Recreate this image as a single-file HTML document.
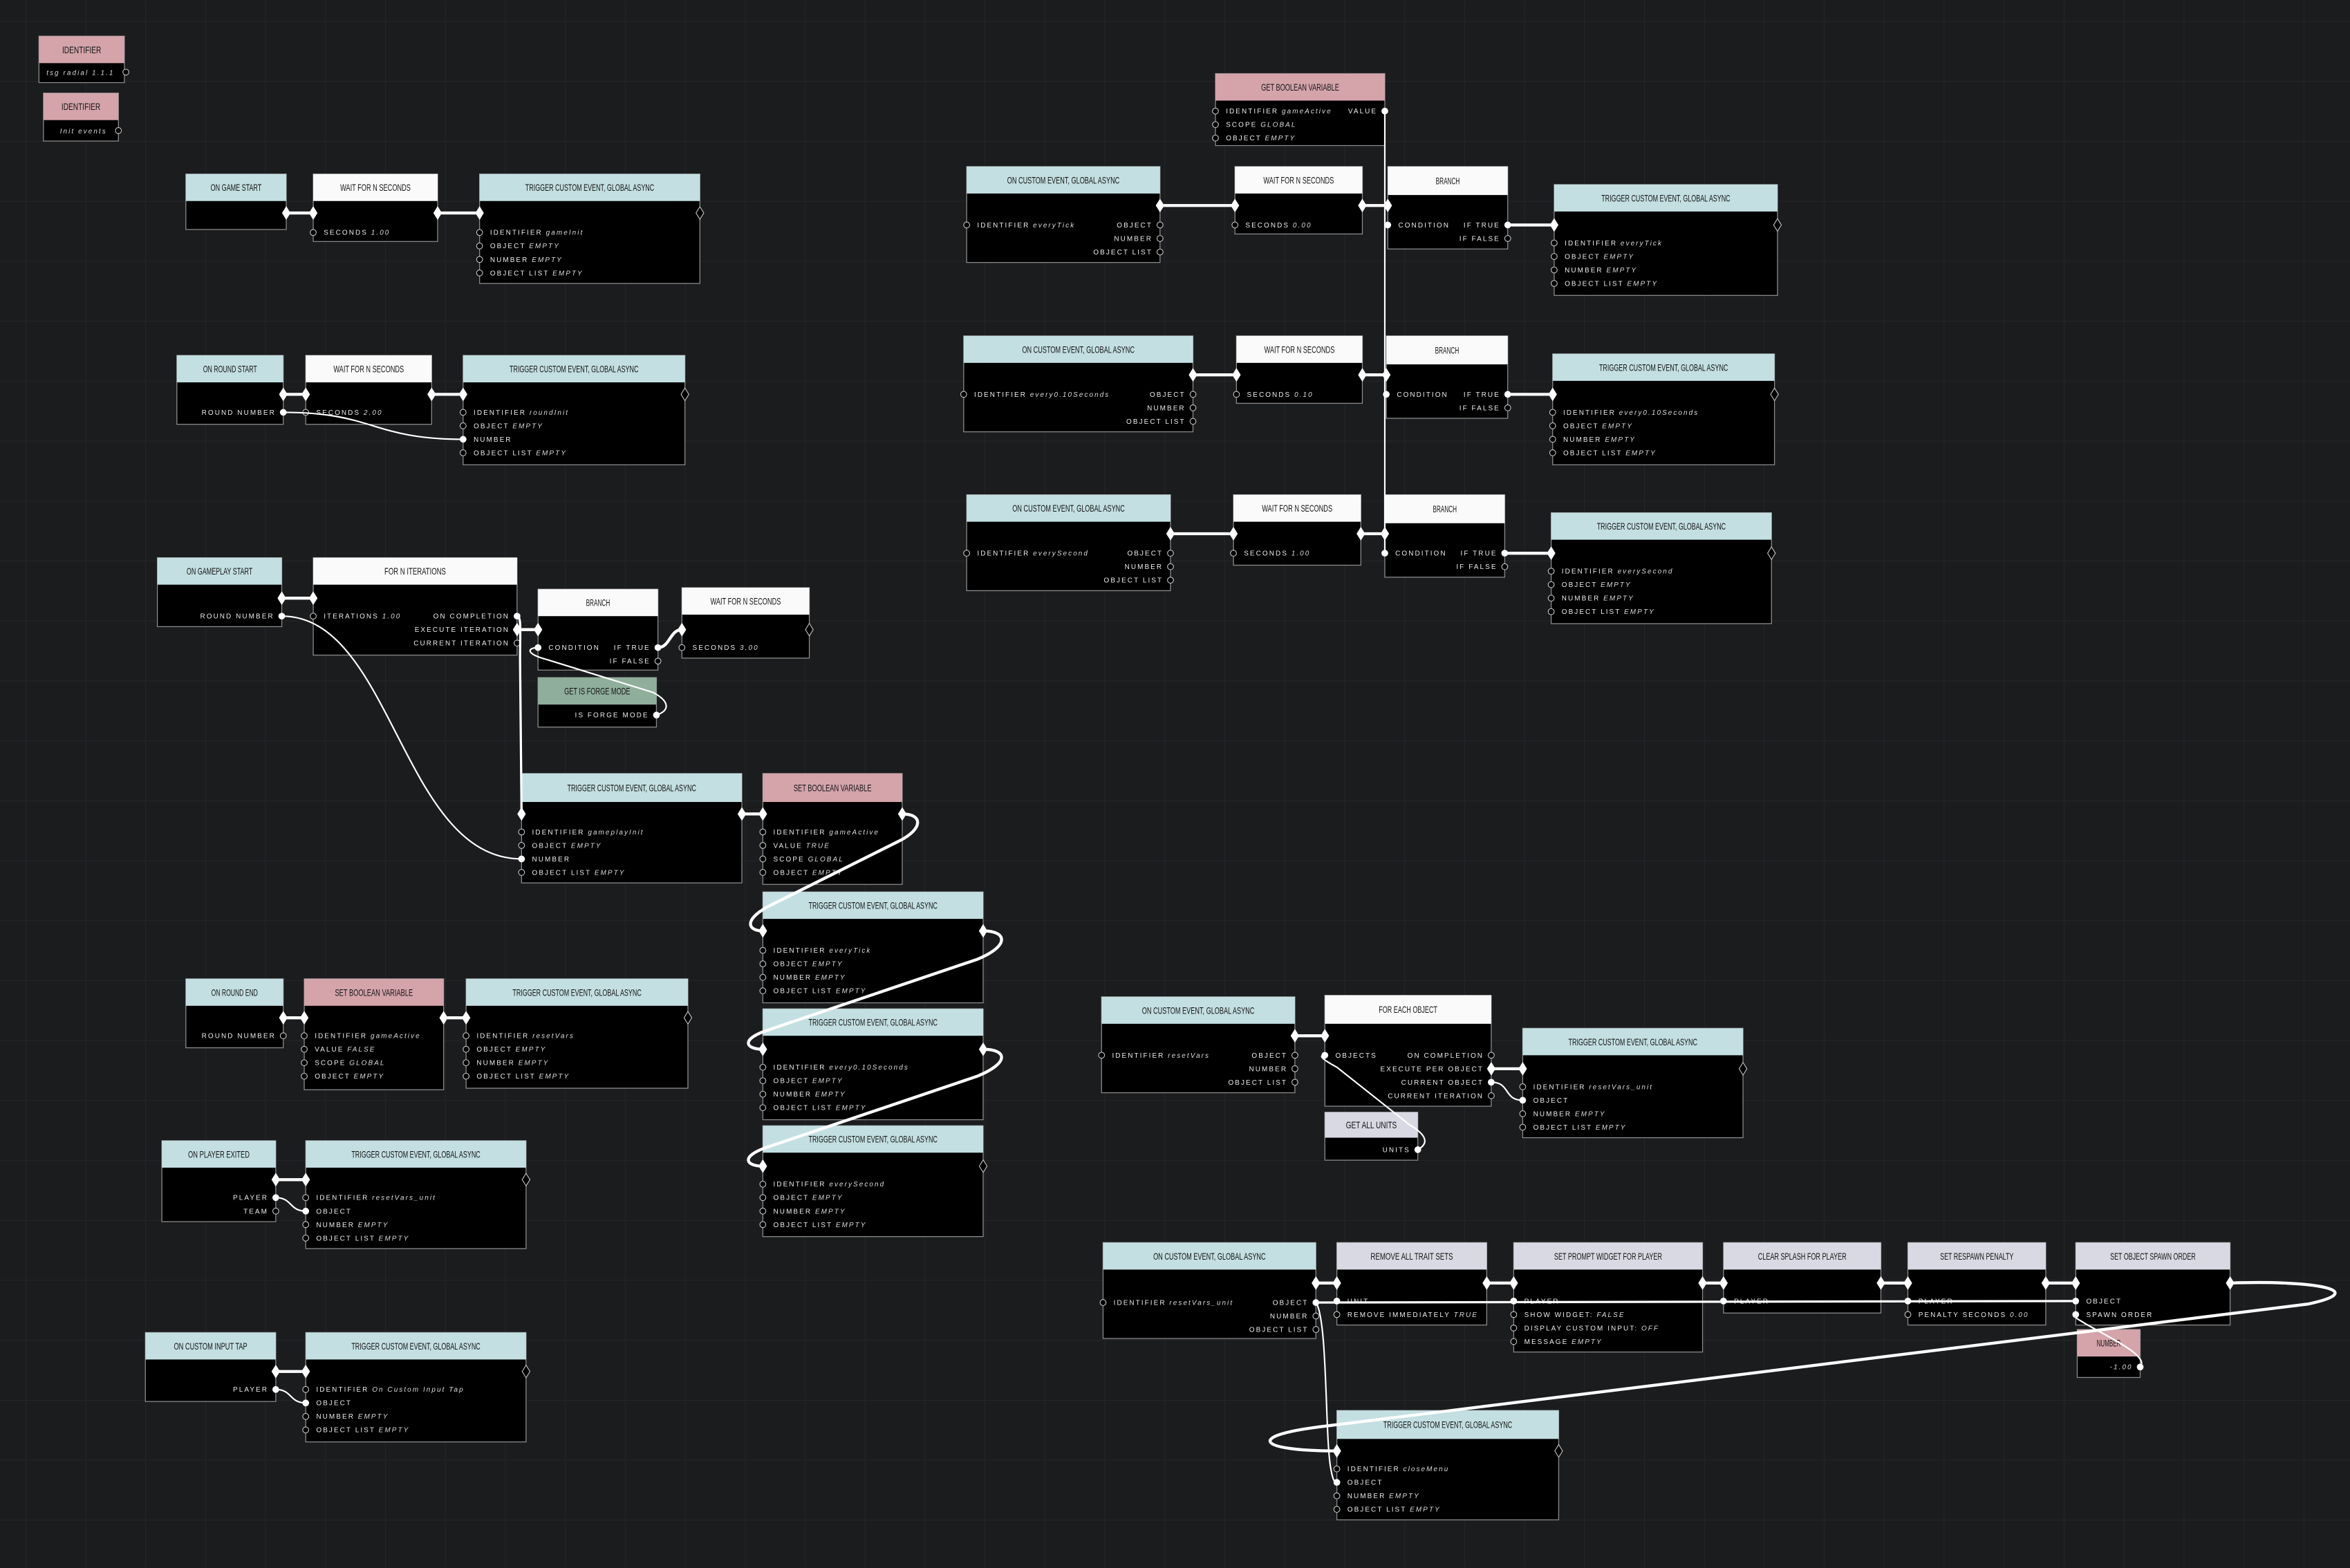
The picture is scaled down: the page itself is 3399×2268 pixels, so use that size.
<!DOCTYPE html>
<html><head><meta charset="utf-8">
<style>
html,body{margin:0;padding:0;background:#1b1c1e;overflow:hidden}
svg{display:block}
.h{font-family:"Liberation Sans",sans-serif;font-size:6.2px;fill:#151515;text-anchor:middle}
.r{font-family:"Liberation Sans",sans-serif;font-size:4.6px;fill:#ececec;letter-spacing:0.95px}
.re{text-anchor:end}
.v{font-style:italic;fill:#dcdcdc}
.n{fill:#000;stroke:#8a8a8a;stroke-width:.6}
.p{fill:#000;stroke:#c8c8c8;stroke-width:.5}
.pf{fill:#fff;stroke:#fff;stroke-width:.5}
.w{fill:none;stroke:#fff;stroke-width:1}
.we{fill:none;stroke:#fff;stroke-width:2}
</style></head><body>
<svg width="3399" height="2268" viewBox="0 0 1568 1046" xmlns="http://www.w3.org/2000/svg">
<defs>
<pattern id="g" x="17" y="14" width="40" height="40" patternUnits="userSpaceOnUse">
<path d="M0 0H40M0 0V40" stroke="#26272a" stroke-width="0.8" fill="none"/>
</pattern>
<polygon id="df" points="-2.6,0 0,-4.2 2.6,0 0,4.2" fill="#fff" stroke="#fff" stroke-width=".4"/>
<polygon id="dh" points="-2.6,0 0,-4.2 2.6,0 0,4.2" fill="#000" stroke="#c8c8c8" stroke-width=".5"/>
</defs>
<rect width="1568" height="1046" fill="#1b1c1e"/>
<rect width="1568" height="1046" fill="url(#g)"/>

<!-- IDENTIFIER 1 -->
<rect class="n" x="26" y="24" width="57" height="31"/><rect x="26" y="24" width="57" height="18" fill="#d4a4aa"/>
<text class="h" x="54.5" y="35.3" textLength="26" lengthAdjust="spacingAndGlyphs">IDENTIFIER</text>
<text class="r v" x="31" y="50">tsg radial 1.1.1</text>
<circle class="p" cx="84" cy="48" r="2"/>
<!-- IDENTIFIER 2 -->
<rect class="n" x="29" y="62" width="50" height="32"/><rect x="29" y="62" width="50" height="18" fill="#d4a4aa"/>
<text class="h" x="54" y="73.3" textLength="26" lengthAdjust="spacingAndGlyphs">IDENTIFIER</text>
<text class="r v" x="40" y="89">Init events</text>
<circle class="p" cx="79" cy="87" r="2"/>

<!-- ON GAME START -->
<rect class="n" x="124" y="116" width="67" height="37"/><rect x="124" y="116" width="67" height="18" fill="#c3dfe2"/>
<text class="h" x="157.5" y="127.3" textLength="34" lengthAdjust="spacingAndGlyphs">ON GAME START</text>
<!-- WAIT -->
<rect class="n" x="209" y="116" width="83" height="45"/><rect x="209" y="116" width="83" height="18" fill="#fafafa"/>
<text class="h" x="250.5" y="127.3" textLength="47" lengthAdjust="spacingAndGlyphs">WAIT FOR N SECONDS</text>
<circle class="p" cx="209" cy="155" r="2"/><text class="r" x="216" y="156.6">SECONDS <tspan class="v">1.00</tspan></text>
<!-- TRIGGER gameInit -->
<rect class="n" x="320" y="116" width="147" height="73"/><rect x="320" y="116" width="147" height="18" fill="#c3dfe2"/>
<text class="h" x="393.5" y="127.3" textLength="86" lengthAdjust="spacingAndGlyphs">TRIGGER CUSTOM EVENT, GLOBAL ASYNC</text>
<circle class="p" cx="320" cy="155" r="2"/><text class="r" x="327" y="156.6">IDENTIFIER <tspan class="v">gameInit</tspan></text>
<circle class="p" cx="320" cy="164" r="2"/><text class="r" x="327" y="165.6">OBJECT <tspan class="v">EMPTY</tspan></text>
<circle class="p" cx="320" cy="173" r="2"/><text class="r" x="327" y="174.6">NUMBER <tspan class="v">EMPTY</tspan></text>
<circle class="p" cx="320" cy="182" r="2"/><text class="r" x="327" y="183.6">OBJECT LIST <tspan class="v">EMPTY</tspan></text>
<use href="#dh" x="467" y="142"/>

<!-- ON ROUND START -->
<rect class="n" x="118" y="237" width="71" height="46"/><rect x="118" y="237" width="71" height="18" fill="#c3dfe2"/>
<text class="h" x="153.5" y="248.3" textLength="36" lengthAdjust="spacingAndGlyphs">ON ROUND START</text>
<text class="r re" x="184" y="276.6">ROUND NUMBER</text><circle class="pf" cx="189" cy="275" r="2"/>
<rect class="n" x="204" y="237" width="84" height="46"/><rect x="204" y="237" width="84" height="18" fill="#fafafa"/>
<text class="h" x="246" y="248.3" textLength="47" lengthAdjust="spacingAndGlyphs">WAIT FOR N SECONDS</text>
<circle class="p" cx="204" cy="275" r="2"/><text class="r" x="211" y="276.6">SECONDS <tspan class="v">2.00</tspan></text>
<rect class="n" x="309" y="237" width="148" height="73"/><rect x="309" y="237" width="148" height="18" fill="#c3dfe2"/>
<text class="h" x="383" y="248.3" textLength="86" lengthAdjust="spacingAndGlyphs">TRIGGER CUSTOM EVENT, GLOBAL ASYNC</text>
<circle class="p" cx="309" cy="275" r="2"/><text class="r" x="316" y="276.6">IDENTIFIER <tspan class="v">roundInit</tspan></text>
<circle class="p" cx="309" cy="284" r="2"/><text class="r" x="316" y="285.6">OBJECT <tspan class="v">EMPTY</tspan></text>
<circle class="pf" cx="309" cy="293" r="2"/><text class="r" x="316" y="294.6">NUMBER</text>
<circle class="p" cx="309" cy="302" r="2"/><text class="r" x="316" y="303.6">OBJECT LIST <tspan class="v">EMPTY</tspan></text>
<use href="#dh" x="457" y="263"/>

<!-- ON GAMEPLAY START -->
<rect class="n" x="105" y="372" width="83" height="46"/><rect x="105" y="372" width="83" height="18" fill="#c3dfe2"/>
<text class="h" x="146.5" y="383.3" textLength="44" lengthAdjust="spacingAndGlyphs">ON GAMEPLAY START</text>
<text class="r re" x="183" y="412.6">ROUND NUMBER</text><circle class="pf" cx="188" cy="411" r="2"/>
<!-- FOR N ITERATIONS -->
<rect class="n" x="209" y="372" width="136" height="65"/><rect x="209" y="372" width="136" height="18" fill="#fafafa"/>
<text class="h" x="277" y="383.3" textLength="41" lengthAdjust="spacingAndGlyphs">FOR N ITERATIONS</text>
<circle class="p" cx="209" cy="411" r="2"/><text class="r" x="216" y="412.6">ITERATIONS <tspan class="v">1.00</tspan></text>
<text class="r re" x="340" y="412.6">ON COMPLETION</text><circle class="pf" cx="345" cy="411" r="2"/>
<text class="r re" x="340" y="421.6">EXECUTE ITERATION</text>
<text class="r re" x="340" y="430.6">CURRENT ITERATION</text><circle class="p" cx="345" cy="429" r="2"/>
<!-- BRANCH -->
<rect class="n" x="359" y="393" width="80" height="54"/><rect x="359" y="393" width="80" height="18" fill="#fafafa"/>
<text class="h" x="399" y="404.3" textLength="16" lengthAdjust="spacingAndGlyphs">BRANCH</text>
<circle class="pf" cx="359" cy="432" r="2"/><text class="r" x="366" y="433.6">CONDITION</text>
<text class="r re" x="434" y="433.6">IF TRUE</text><circle class="pf" cx="439" cy="432" r="2"/>
<text class="r re" x="434" y="442.6">IF FALSE</text><circle class="p" cx="439" cy="441" r="2"/>
<!-- WAIT 3 -->
<rect class="n" x="455" y="392" width="85" height="47"/><rect x="455" y="392" width="85" height="18" fill="#fafafa"/>
<text class="h" x="497.5" y="403.3" textLength="47" lengthAdjust="spacingAndGlyphs">WAIT FOR N SECONDS</text>
<circle class="p" cx="455" cy="432" r="2"/><text class="r" x="462" y="433.6">SECONDS <tspan class="v">3.00</tspan></text>
<use href="#dh" x="540" y="420"/>
<!-- GET IS FORGE MODE -->
<rect class="n" x="359" y="452" width="79" height="33"/><rect x="359" y="452" width="79" height="18" fill="#8fae9c"/>
<text class="h" x="398.5" y="463.3" textLength="44" lengthAdjust="spacingAndGlyphs">GET IS FORGE MODE</text>
<text class="r re" x="433" y="478.6">IS FORGE MODE</text><circle class="pf" cx="438" cy="477" r="2"/>
<!-- TRIGGER gameplayInit -->
<rect class="n" x="348" y="516" width="147" height="73"/><rect x="348" y="516" width="147" height="19" fill="#c3dfe2"/>
<text class="h" x="421.5" y="527.8" textLength="86" lengthAdjust="spacingAndGlyphs">TRIGGER CUSTOM EVENT, GLOBAL ASYNC</text>
<circle class="p" cx="348" cy="555" r="2"/><text class="r" x="355" y="556.6">IDENTIFIER <tspan class="v">gameplayInit</tspan></text>
<circle class="p" cx="348" cy="564" r="2"/><text class="r" x="355" y="565.6">OBJECT <tspan class="v">EMPTY</tspan></text>
<circle class="pf" cx="348" cy="573" r="2"/><text class="r" x="355" y="574.6">NUMBER</text>
<circle class="p" cx="348" cy="582" r="2"/><text class="r" x="355" y="583.6">OBJECT LIST <tspan class="v">EMPTY</tspan></text>
<!-- SET BOOLEAN -->
<rect class="n" x="509" y="516" width="93" height="74"/><rect x="509" y="516" width="93" height="19" fill="#d4a4aa"/>
<text class="h" x="555.5" y="527.8" textLength="52" lengthAdjust="spacingAndGlyphs">SET BOOLEAN VARIABLE</text>
<circle class="p" cx="509" cy="555" r="2"/><text class="r" x="516" y="556.6">IDENTIFIER <tspan class="v">gameActive</tspan></text>
<circle class="p" cx="509" cy="564" r="2"/><text class="r" x="516" y="565.6">VALUE <tspan class="v">TRUE</tspan></text>
<circle class="p" cx="509" cy="573" r="2"/><text class="r" x="516" y="574.6">SCOPE <tspan class="v">GLOBAL</tspan></text>
<circle class="p" cx="509" cy="582" r="2"/><text class="r" x="516" y="583.6">OBJECT <tspan class="v">EMPTY</tspan></text>
<!-- TRIGGERS stacked -->
<rect class="n" x="509" y="595" width="147" height="74"/><rect x="509" y="595" width="147" height="18" fill="#c3dfe2"/>
<text class="h" x="582.5" y="606.3" textLength="86" lengthAdjust="spacingAndGlyphs">TRIGGER CUSTOM EVENT, GLOBAL ASYNC</text>
<circle class="p" cx="509" cy="634" r="2"/><text class="r" x="516" y="635.6">IDENTIFIER <tspan class="v">everyTick</tspan></text>
<circle class="p" cx="509" cy="643" r="2"/><text class="r" x="516" y="644.6">OBJECT <tspan class="v">EMPTY</tspan></text>
<circle class="p" cx="509" cy="652" r="2"/><text class="r" x="516" y="653.6">NUMBER <tspan class="v">EMPTY</tspan></text>
<circle class="p" cx="509" cy="661" r="2"/><text class="r" x="516" y="662.6">OBJECT LIST <tspan class="v">EMPTY</tspan></text>
<rect class="n" x="509" y="673" width="147" height="74"/><rect x="509" y="673" width="147" height="18" fill="#c3dfe2"/>
<text class="h" x="582.5" y="684.3" textLength="86" lengthAdjust="spacingAndGlyphs">TRIGGER CUSTOM EVENT, GLOBAL ASYNC</text>
<circle class="p" cx="509" cy="712" r="2"/><text class="r" x="516" y="713.6">IDENTIFIER <tspan class="v">every0.10Seconds</tspan></text>
<circle class="p" cx="509" cy="721" r="2"/><text class="r" x="516" y="722.6">OBJECT <tspan class="v">EMPTY</tspan></text>
<circle class="p" cx="509" cy="730" r="2"/><text class="r" x="516" y="731.6">NUMBER <tspan class="v">EMPTY</tspan></text>
<circle class="p" cx="509" cy="739" r="2"/><text class="r" x="516" y="740.6">OBJECT LIST <tspan class="v">EMPTY</tspan></text>
<rect class="n" x="509" y="751" width="147" height="74"/><rect x="509" y="751" width="147" height="18" fill="#c3dfe2"/>
<text class="h" x="582.5" y="762.3" textLength="86" lengthAdjust="spacingAndGlyphs">TRIGGER CUSTOM EVENT, GLOBAL ASYNC</text>
<circle class="p" cx="509" cy="790" r="2"/><text class="r" x="516" y="791.6">IDENTIFIER <tspan class="v">everySecond</tspan></text>
<circle class="p" cx="509" cy="799" r="2"/><text class="r" x="516" y="800.6">OBJECT <tspan class="v">EMPTY</tspan></text>
<circle class="p" cx="509" cy="808" r="2"/><text class="r" x="516" y="809.6">NUMBER <tspan class="v">EMPTY</tspan></text>
<circle class="p" cx="509" cy="817" r="2"/><text class="r" x="516" y="818.6">OBJECT LIST <tspan class="v">EMPTY</tspan></text>
<use href="#dh" x="656" y="778"/>

<!-- ON ROUND END -->
<rect class="n" x="124" y="653" width="65" height="46"/><rect x="124" y="653" width="65" height="18" fill="#c3dfe2"/>
<text class="h" x="156.5" y="664.3" textLength="31" lengthAdjust="spacingAndGlyphs">ON ROUND END</text>
<text class="r re" x="184" y="692.6">ROUND NUMBER</text><circle class="p" cx="189" cy="691" r="2"/>
<rect class="n" x="203" y="653" width="93" height="74"/><rect x="203" y="653" width="93" height="18" fill="#d4a4aa"/>
<text class="h" x="249.5" y="664.3" textLength="52" lengthAdjust="spacingAndGlyphs">SET BOOLEAN VARIABLE</text>
<circle class="p" cx="203" cy="691" r="2"/><text class="r" x="210" y="692.6">IDENTIFIER <tspan class="v">gameActive</tspan></text>
<circle class="p" cx="203" cy="700" r="2"/><text class="r" x="210" y="701.6">VALUE <tspan class="v">FALSE</tspan></text>
<circle class="p" cx="203" cy="709" r="2"/><text class="r" x="210" y="710.6">SCOPE <tspan class="v">GLOBAL</tspan></text>
<circle class="p" cx="203" cy="718" r="2"/><text class="r" x="210" y="719.6">OBJECT <tspan class="v">EMPTY</tspan></text>
<rect class="n" x="311" y="653" width="148" height="73"/><rect x="311" y="653" width="148" height="18" fill="#c3dfe2"/>
<text class="h" x="385" y="664.3" textLength="86" lengthAdjust="spacingAndGlyphs">TRIGGER CUSTOM EVENT, GLOBAL ASYNC</text>
<circle class="p" cx="311" cy="691" r="2"/><text class="r" x="318" y="692.6">IDENTIFIER <tspan class="v">resetVars</tspan></text>
<circle class="p" cx="311" cy="700" r="2"/><text class="r" x="318" y="701.6">OBJECT <tspan class="v">EMPTY</tspan></text>
<circle class="p" cx="311" cy="709" r="2"/><text class="r" x="318" y="710.6">NUMBER <tspan class="v">EMPTY</tspan></text>
<circle class="p" cx="311" cy="718" r="2"/><text class="r" x="318" y="719.6">OBJECT LIST <tspan class="v">EMPTY</tspan></text>
<use href="#dh" x="459" y="679"/>

<!-- ON PLAYER EXITED -->
<rect class="n" x="108" y="761" width="76" height="54"/><rect x="108" y="761" width="76" height="18" fill="#c3dfe2"/>
<text class="h" x="146" y="772.3" textLength="41" lengthAdjust="spacingAndGlyphs">ON PLAYER EXITED</text>
<text class="r re" x="179" y="800.6">PLAYER</text><circle class="pf" cx="184" cy="799" r="2"/>
<text class="r re" x="179" y="809.6">TEAM</text><circle class="p" cx="184" cy="808" r="2"/>
<rect class="n" x="204" y="761" width="147" height="72"/><rect x="204" y="761" width="147" height="18" fill="#c3dfe2"/>
<text class="h" x="277.5" y="772.3" textLength="86" lengthAdjust="spacingAndGlyphs">TRIGGER CUSTOM EVENT, GLOBAL ASYNC</text>
<circle class="p" cx="204" cy="799" r="2"/><text class="r" x="211" y="800.6">IDENTIFIER <tspan class="v">resetVars_unit</tspan></text>
<circle class="pf" cx="204" cy="808" r="2"/><text class="r" x="211" y="809.6">OBJECT</text>
<circle class="p" cx="204" cy="817" r="2"/><text class="r" x="211" y="818.6">NUMBER <tspan class="v">EMPTY</tspan></text>
<circle class="p" cx="204" cy="826" r="2"/><text class="r" x="211" y="827.6">OBJECT LIST <tspan class="v">EMPTY</tspan></text>
<use href="#dh" x="351" y="787"/>

<!-- ON CUSTOM INPUT TAP -->
<rect class="n" x="97" y="889" width="87" height="46"/><rect x="97" y="889" width="87" height="18" fill="#c3dfe2"/>
<text class="h" x="140.5" y="900.3" textLength="49" lengthAdjust="spacingAndGlyphs">ON CUSTOM INPUT TAP</text>
<text class="r re" x="179" y="928.6">PLAYER</text><circle class="pf" cx="184" cy="927" r="2"/>
<rect class="n" x="204" y="889" width="147" height="73"/><rect x="204" y="889" width="147" height="18" fill="#c3dfe2"/>
<text class="h" x="277.5" y="900.3" textLength="86" lengthAdjust="spacingAndGlyphs">TRIGGER CUSTOM EVENT, GLOBAL ASYNC</text>
<circle class="p" cx="204" cy="927" r="2"/><text class="r" x="211" y="928.6">IDENTIFIER <tspan class="v">On Custom Input Tap</tspan></text>
<circle class="pf" cx="204" cy="936" r="2"/><text class="r" x="211" y="937.6">OBJECT</text>
<circle class="p" cx="204" cy="945" r="2"/><text class="r" x="211" y="946.6">NUMBER <tspan class="v">EMPTY</tspan></text>
<circle class="p" cx="204" cy="954" r="2"/><text class="r" x="211" y="955.6">OBJECT LIST <tspan class="v">EMPTY</tspan></text>
<use href="#dh" x="351" y="915"/>

<!-- GET BOOLEAN VARIABLE -->
<rect class="n" x="811" y="49" width="113" height="48"/><rect x="811" y="49" width="113" height="18" fill="#d4a4aa"/>
<text class="h" x="867.5" y="60.3" textLength="52" lengthAdjust="spacingAndGlyphs">GET BOOLEAN VARIABLE</text>
<circle class="p" cx="811" cy="74" r="2"/><text class="r" x="818" y="75.6">IDENTIFIER <tspan class="v">gameActive</tspan></text>
<circle class="p" cx="811" cy="83" r="2"/><text class="r" x="818" y="84.6">SCOPE <tspan class="v">GLOBAL</tspan></text>
<circle class="p" cx="811" cy="92" r="2"/><text class="r" x="818" y="93.6">OBJECT <tspan class="v">EMPTY</tspan></text>
<text class="r re" x="919" y="75.6">VALUE</text><circle class="pf" cx="924" cy="74" r="2"/>

<!-- Row A -->
<rect class="n" x="645" y="111" width="129" height="64"/><rect x="645" y="111" width="129" height="18" fill="#c3dfe2"/>
<text class="h" x="709.5" y="122.3" textLength="75" lengthAdjust="spacingAndGlyphs">ON CUSTOM EVENT, GLOBAL ASYNC</text>
<circle class="p" cx="645" cy="150" r="2"/><text class="r" x="652" y="151.6">IDENTIFIER <tspan class="v">everyTick</tspan></text>
<text class="r re" x="769" y="151.6">OBJECT</text><circle class="p" cx="774" cy="150" r="2"/>
<text class="r re" x="769" y="160.6">NUMBER</text><circle class="p" cx="774" cy="159" r="2"/>
<text class="r re" x="769" y="169.6">OBJECT LIST</text><circle class="p" cx="774" cy="168" r="2"/>
<rect class="n" x="824" y="111" width="85" height="45"/><rect x="824" y="111" width="85" height="18" fill="#fafafa"/>
<text class="h" x="866.5" y="122.3" textLength="47" lengthAdjust="spacingAndGlyphs">WAIT FOR N SECONDS</text>
<circle class="p" cx="824" cy="150" r="2"/><text class="r" x="831" y="151.6">SECONDS <tspan class="v">0.00</tspan></text>
<rect class="n" x="926" y="111" width="80" height="55"/><rect x="926" y="111" width="80" height="19" fill="#fafafa"/>
<text class="h" x="966" y="122.8" textLength="16" lengthAdjust="spacingAndGlyphs">BRANCH</text>
<text class="r" x="933" y="151.6">CONDITION</text>
<text class="r re" x="1001" y="151.6">IF TRUE</text><circle class="pf" cx="1006" cy="150" r="2"/>
<text class="r re" x="1001" y="160.6">IF FALSE</text><circle class="p" cx="1006" cy="159" r="2"/>
<rect class="n" x="1037" y="123" width="149" height="74"/><rect x="1037" y="123" width="149" height="18" fill="#c3dfe2"/>
<text class="h" x="1111.5" y="134.3" textLength="86" lengthAdjust="spacingAndGlyphs">TRIGGER CUSTOM EVENT, GLOBAL ASYNC</text>
<circle class="p" cx="1037" cy="162" r="2"/><text class="r" x="1044" y="163.6">IDENTIFIER <tspan class="v">everyTick</tspan></text>
<circle class="p" cx="1037" cy="171" r="2"/><text class="r" x="1044" y="172.6">OBJECT <tspan class="v">EMPTY</tspan></text>
<circle class="p" cx="1037" cy="180" r="2"/><text class="r" x="1044" y="181.6">NUMBER <tspan class="v">EMPTY</tspan></text>
<circle class="p" cx="1037" cy="189" r="2"/><text class="r" x="1044" y="190.6">OBJECT LIST <tspan class="v">EMPTY</tspan></text>
<use href="#dh" x="1186" y="150"/>

<!-- Row B -->
<rect class="n" x="643" y="224" width="153" height="64"/><rect x="643" y="224" width="153" height="18" fill="#c3dfe2"/>
<text class="h" x="719.5" y="235.3" textLength="75" lengthAdjust="spacingAndGlyphs">ON CUSTOM EVENT, GLOBAL ASYNC</text>
<circle class="p" cx="643" cy="263" r="2"/><text class="r" x="650" y="264.6">IDENTIFIER <tspan class="v">every0.10Seconds</tspan></text>
<text class="r re" x="791" y="264.6">OBJECT</text><circle class="p" cx="796" cy="263" r="2"/>
<text class="r re" x="791" y="273.6">NUMBER</text><circle class="p" cx="796" cy="272" r="2"/>
<text class="r re" x="791" y="282.6">OBJECT LIST</text><circle class="p" cx="796" cy="281" r="2"/>
<rect class="n" x="825" y="224" width="84" height="45"/><rect x="825" y="224" width="84" height="18" fill="#fafafa"/>
<text class="h" x="867" y="235.3" textLength="47" lengthAdjust="spacingAndGlyphs">WAIT FOR N SECONDS</text>
<circle class="p" cx="825" cy="263" r="2"/><text class="r" x="832" y="264.6">SECONDS <tspan class="v">0.10</tspan></text>
<rect class="n" x="925" y="224" width="81" height="55"/><rect x="925" y="224" width="81" height="19" fill="#fafafa"/>
<text class="h" x="965.5" y="235.8" textLength="16" lengthAdjust="spacingAndGlyphs">BRANCH</text>
<text class="r" x="932" y="264.6">CONDITION</text>
<text class="r re" x="1001" y="264.6">IF TRUE</text><circle class="pf" cx="1006" cy="263" r="2"/>
<text class="r re" x="1001" y="273.6">IF FALSE</text><circle class="p" cx="1006" cy="272" r="2"/>
<rect class="n" x="1036" y="236" width="148" height="74"/><rect x="1036" y="236" width="148" height="18" fill="#c3dfe2"/>
<text class="h" x="1110" y="247.3" textLength="86" lengthAdjust="spacingAndGlyphs">TRIGGER CUSTOM EVENT, GLOBAL ASYNC</text>
<circle class="p" cx="1036" cy="275" r="2"/><text class="r" x="1043" y="276.6">IDENTIFIER <tspan class="v">every0.10Seconds</tspan></text>
<circle class="p" cx="1036" cy="284" r="2"/><text class="r" x="1043" y="285.6">OBJECT <tspan class="v">EMPTY</tspan></text>
<circle class="p" cx="1036" cy="293" r="2"/><text class="r" x="1043" y="294.6">NUMBER <tspan class="v">EMPTY</tspan></text>
<circle class="p" cx="1036" cy="302" r="2"/><text class="r" x="1043" y="303.6">OBJECT LIST <tspan class="v">EMPTY</tspan></text>
<use href="#dh" x="1184" y="263"/>

<!-- Row C -->
<rect class="n" x="645" y="330" width="136" height="64"/><rect x="645" y="330" width="136" height="18" fill="#c3dfe2"/>
<text class="h" x="713" y="341.3" textLength="75" lengthAdjust="spacingAndGlyphs">ON CUSTOM EVENT, GLOBAL ASYNC</text>
<circle class="p" cx="645" cy="369" r="2"/><text class="r" x="652" y="370.6">IDENTIFIER <tspan class="v">everySecond</tspan></text>
<text class="r re" x="776" y="370.6">OBJECT</text><circle class="p" cx="781" cy="369" r="2"/>
<text class="r re" x="776" y="379.6">NUMBER</text><circle class="p" cx="781" cy="378" r="2"/>
<text class="r re" x="776" y="388.6">OBJECT LIST</text><circle class="p" cx="781" cy="387" r="2"/>
<rect class="n" x="823" y="330" width="85" height="47"/><rect x="823" y="330" width="85" height="18" fill="#fafafa"/>
<text class="h" x="865.5" y="341.3" textLength="47" lengthAdjust="spacingAndGlyphs">WAIT FOR N SECONDS</text>
<circle class="p" cx="823" cy="369" r="2"/><text class="r" x="830" y="370.6">SECONDS <tspan class="v">1.00</tspan></text>
<rect class="n" x="924" y="330" width="80" height="55"/><rect x="924" y="330" width="80" height="19" fill="#fafafa"/>
<text class="h" x="964" y="341.8" textLength="16" lengthAdjust="spacingAndGlyphs">BRANCH</text>
<circle class="pf" cx="924" cy="369" r="2"/><text class="r" x="931" y="370.6">CONDITION</text>
<text class="r re" x="999" y="370.6">IF TRUE</text><circle class="pf" cx="1004" cy="369" r="2"/>
<text class="r re" x="999" y="379.6">IF FALSE</text><circle class="p" cx="1004" cy="378" r="2"/>
<rect class="n" x="1035" y="342" width="147" height="74"/><rect x="1035" y="342" width="147" height="18" fill="#c3dfe2"/>
<text class="h" x="1108.5" y="353.3" textLength="86" lengthAdjust="spacingAndGlyphs">TRIGGER CUSTOM EVENT, GLOBAL ASYNC</text>
<circle class="p" cx="1035" cy="381" r="2"/><text class="r" x="1042" y="382.6">IDENTIFIER <tspan class="v">everySecond</tspan></text>
<circle class="p" cx="1035" cy="390" r="2"/><text class="r" x="1042" y="391.6">OBJECT <tspan class="v">EMPTY</tspan></text>
<circle class="p" cx="1035" cy="399" r="2"/><text class="r" x="1042" y="400.6">NUMBER <tspan class="v">EMPTY</tspan></text>
<circle class="p" cx="1035" cy="408" r="2"/><text class="r" x="1042" y="409.6">OBJECT LIST <tspan class="v">EMPTY</tspan></text>
<use href="#dh" x="1182" y="369"/>

<!-- resetVars group -->
<rect class="n" x="735" y="665" width="129" height="64"/><rect x="735" y="665" width="129" height="18" fill="#c3dfe2"/>
<text class="h" x="799.5" y="676.3" textLength="75" lengthAdjust="spacingAndGlyphs">ON CUSTOM EVENT, GLOBAL ASYNC</text>
<circle class="p" cx="735" cy="704" r="2"/><text class="r" x="742" y="705.6">IDENTIFIER <tspan class="v">resetVars</tspan></text>
<text class="r re" x="859" y="705.6">OBJECT</text><circle class="p" cx="864" cy="704" r="2"/>
<text class="r re" x="859" y="714.6">NUMBER</text><circle class="p" cx="864" cy="713" r="2"/>
<text class="r re" x="859" y="723.6">OBJECT LIST</text><circle class="p" cx="864" cy="722" r="2"/>
<rect class="n" x="884" y="664" width="111" height="74"/><rect x="884" y="664" width="111" height="19" fill="#fafafa"/>
<text class="h" x="939.5" y="675.8" textLength="39" lengthAdjust="spacingAndGlyphs">FOR EACH OBJECT</text>
<circle class="pf" cx="884" cy="704" r="2"/><text class="r" x="891" y="705.6">OBJECTS</text>
<text class="r re" x="990" y="705.6">ON COMPLETION</text><circle class="p" cx="995" cy="704" r="2"/>
<text class="r re" x="990" y="714.6">EXECUTE PER OBJECT</text>
<text class="r re" x="990" y="723.6">CURRENT OBJECT</text><circle class="pf" cx="995" cy="722" r="2"/>
<text class="r re" x="990" y="732.6">CURRENT ITERATION</text><circle class="p" cx="995" cy="731" r="2"/>
<rect class="n" x="884" y="742" width="62" height="32"/><rect x="884" y="742" width="62" height="17" fill="#d8d9e3"/>
<text class="h" x="915" y="752.8" textLength="34" lengthAdjust="spacingAndGlyphs">GET ALL UNITS</text>
<text class="r re" x="941" y="768.6">UNITS</text><circle class="pf" cx="946" cy="767" r="2"/>
<rect class="n" x="1016" y="686" width="147" height="73"/><rect x="1016" y="686" width="147" height="18" fill="#c3dfe2"/>
<text class="h" x="1089.5" y="697.3" textLength="86" lengthAdjust="spacingAndGlyphs">TRIGGER CUSTOM EVENT, GLOBAL ASYNC</text>
<circle class="p" cx="1016" cy="725" r="2"/><text class="r" x="1023" y="726.6">IDENTIFIER <tspan class="v">resetVars_unit</tspan></text>
<circle class="pf" cx="1016" cy="734" r="2"/><text class="r" x="1023" y="735.6">OBJECT</text>
<circle class="p" cx="1016" cy="743" r="2"/><text class="r" x="1023" y="744.6">NUMBER <tspan class="v">EMPTY</tspan></text>
<circle class="p" cx="1016" cy="752" r="2"/><text class="r" x="1023" y="753.6">OBJECT LIST <tspan class="v">EMPTY</tspan></text>
<use href="#dh" x="1163" y="713"/>

<!-- resetVars_unit group -->
<rect class="n" x="736" y="829" width="142" height="64"/><rect x="736" y="829" width="142" height="18" fill="#c3dfe2"/>
<text class="h" x="807" y="840.3" textLength="75" lengthAdjust="spacingAndGlyphs">ON CUSTOM EVENT, GLOBAL ASYNC</text>
<circle class="p" cx="736" cy="869" r="2"/><text class="r" x="743" y="870.6">IDENTIFIER <tspan class="v">resetVars_unit</tspan></text>
<text class="r re" x="873" y="870.6">OBJECT</text><circle class="pf" cx="878" cy="869" r="2"/>
<text class="r re" x="873" y="879.6">NUMBER</text><circle class="p" cx="878" cy="878" r="2"/>
<text class="r re" x="873" y="888.6">OBJECT LIST</text><circle class="p" cx="878" cy="887" r="2"/>
<rect class="n" x="892" y="829" width="100" height="55"/><rect x="892" y="829" width="100" height="18" fill="#d8d9e3"/>
<text class="h" x="942" y="840.3" textLength="55" lengthAdjust="spacingAndGlyphs">REMOVE ALL TRAIT SETS</text>
<circle class="pf" cx="892" cy="868" r="2"/><text class="r" x="899" y="869.6">UNIT</text>
<circle class="p" cx="892" cy="877" r="2"/><text class="r" x="899" y="878.6">REMOVE IMMEDIATELY <tspan class="v">TRUE</tspan></text>
<rect class="n" x="1010" y="829" width="126" height="73"/><rect x="1010" y="829" width="126" height="18" fill="#d8d9e3"/>
<text class="h" x="1073" y="840.3" textLength="72" lengthAdjust="spacingAndGlyphs">SET PROMPT WIDGET FOR PLAYER</text>
<circle class="pf" cx="1010" cy="868" r="2"/><text class="r" x="1017" y="869.6">PLAYER</text>
<circle class="p" cx="1010" cy="877" r="2"/><text class="r" x="1017" y="878.6">SHOW WIDGET: <tspan class="v">FALSE</tspan></text>
<circle class="p" cx="1010" cy="886" r="2"/><text class="r" x="1017" y="887.6">DISPLAY CUSTOM INPUT: <tspan class="v">OFF</tspan></text>
<circle class="p" cx="1010" cy="895" r="2"/><text class="r" x="1017" y="896.6">MESSAGE <tspan class="v">EMPTY</tspan></text>
<rect class="n" x="1150" y="829" width="105" height="47"/><rect x="1150" y="829" width="105" height="18" fill="#d8d9e3"/>
<text class="h" x="1202.5" y="840.3" textLength="59" lengthAdjust="spacingAndGlyphs">CLEAR SPLASH FOR PLAYER</text>
<circle class="pf" cx="1150" cy="868" r="2"/><text class="r" x="1157" y="869.6">PLAYER</text>
<rect class="n" x="1273" y="829" width="92" height="55"/><rect x="1273" y="829" width="92" height="18" fill="#d8d9e3"/>
<text class="h" x="1319" y="840.3" textLength="49" lengthAdjust="spacingAndGlyphs">SET RESPAWN PENALTY</text>
<circle class="pf" cx="1273" cy="868" r="2"/><text class="r" x="1280" y="869.6">PLAYER</text>
<circle class="p" cx="1273" cy="877" r="2"/><text class="r" x="1280" y="878.6">PENALTY SECONDS <tspan class="v">0.00</tspan></text>
<rect class="n" x="1385" y="829" width="103" height="55"/><rect x="1385" y="829" width="103" height="18" fill="#d8d9e3"/>
<text class="h" x="1436.5" y="840.3" textLength="57" lengthAdjust="spacingAndGlyphs">SET OBJECT SPAWN ORDER</text>
<circle class="pf" cx="1385" cy="868" r="2"/><text class="r" x="1392" y="869.6">OBJECT</text>
<circle class="pf" cx="1385" cy="877" r="2"/><text class="r" x="1392" y="878.6">SPAWN ORDER</text>
<rect class="n" x="1386" y="887" width="42" height="32"/><rect x="1386" y="887" width="42" height="18" fill="#d4a4aa"/>
<text class="h" x="1407" y="898.3" textLength="16" lengthAdjust="spacingAndGlyphs">NUMBER</text>
<text class="r v re" x="1423" y="913.6">-1.00</text><circle class="pf" cx="1428" cy="912" r="2"/>
<rect class="n" x="892" y="941" width="148" height="73"/><rect x="892" y="941" width="148" height="19" fill="#c3dfe2"/>
<text class="h" x="966" y="952.8" textLength="86" lengthAdjust="spacingAndGlyphs">TRIGGER CUSTOM EVENT, GLOBAL ASYNC</text>
<circle class="p" cx="892" cy="980" r="2"/><text class="r" x="899" y="981.6">IDENTIFIER <tspan class="v">closeMenu</tspan></text>
<circle class="pf" cx="892" cy="989" r="2"/><text class="r" x="899" y="990.6">OBJECT</text>
<circle class="p" cx="892" cy="998" r="2"/><text class="r" x="899" y="999.6">NUMBER <tspan class="v">EMPTY</tspan></text>
<circle class="p" cx="892" cy="1007" r="2"/><text class="r" x="899" y="1008.6">OBJECT LIST <tspan class="v">EMPTY</tspan></text>
<use href="#dh" x="1040" y="968"/>

<!-- WIRES: exec -->
<g class="we">
<path d="M191 142H209M292 142H320M189 263H204M288 263H309M188 399H209M345 420H359M495 543H509"/>
<path d="M189 679H203M296 679H311M184 787H204M184 915H204"/>
<path d="M774 137H824M909 137H926M1006 150H1037M796 250H825M909 250H925M1006 263H1036M781 356H823M908 356H924M1004 369H1035"/>
<path d="M864 691H884M995 713H1016"/>
<path d="M878 856H892M992 856H1010M1136 856H1150M1255 856H1273M1365 856H1385"/>
<path d="M439 432C447 432 447 420 455 420"/>
<path d="M602 543C616 543 616 553 600 561L512 605C496 614 499 621 509 621"/>
<path d="M656 621C672 621 674 631 652 640L510 688C494 694 498 700 509 700"/>
<path d="M656 700C672 700 674 709 652 718L510 766C494 772 498 778 509 778"/>
<path d="M1488 856C1545 854 1582 861 1540 870L880 952C832 958 838 968 892 968"/>
</g>
<path class="w" d="M345 411C348 411 347 420 347 440L348 543" style="stroke-width:1.5"/>
<!-- data wires -->
<g class="w">
<path d="M189 275C250 275 248 293 309 293"/>
<path d="M188 411C262 411 268 573 348 573"/>
<path d="M438 477C447 474 447 468 436 462L365 440C350 436 352 432 359 432"/>
<path d="M924 74V369M924 150H926M924 263H925"/>
<path d="M184 799C195 799 193 808 204 808M184 927C195 927 193 936 204 936"/>
<path d="M946 767C955 762 950 756 940 750L892 712C881 706 880 704 884 704"/>
<path d="M995 722C1008 722 1003 734 1016 734"/>
<path d="M1428 912C1435 904 1402 890 1388 881C1384 879 1384 877 1385 877"/>
<path d="M878 869C886 880 884 960 888 980C889 986 890 989 892 989"/>
</g>
<path d="M878 869L1385 868" fill="none" stroke="#fff" stroke-width="1.5"/>

<!-- exec diamonds (filled, connected) -->
<g>
<use href="#df" x="191" y="142"/><use href="#df" x="209" y="142"/><use href="#df" x="292" y="142"/><use href="#df" x="320" y="142"/>
<use href="#df" x="189" y="263"/><use href="#df" x="204" y="263"/><use href="#df" x="288" y="263"/><use href="#df" x="309" y="263"/>
<use href="#df" x="188" y="399"/><use href="#df" x="209" y="399"/><use href="#df" x="345" y="420"/><use href="#df" x="359" y="420"/><use href="#df" x="455" y="420"/>
<use href="#df" x="348" y="543"/><use href="#df" x="495" y="543"/><use href="#df" x="509" y="543"/><use href="#df" x="602" y="543"/>
<use href="#df" x="509" y="621"/><use href="#df" x="656" y="621"/><use href="#df" x="509" y="700"/><use href="#df" x="656" y="700"/><use href="#df" x="509" y="778"/>
<use href="#df" x="189" y="679"/><use href="#df" x="203" y="679"/><use href="#df" x="296" y="679"/><use href="#df" x="311" y="679"/>
<use href="#df" x="184" y="787"/><use href="#df" x="204" y="787"/><use href="#df" x="184" y="915"/><use href="#df" x="204" y="915"/>
<use href="#df" x="774" y="137"/><use href="#df" x="824" y="137"/><use href="#df" x="909" y="137"/><use href="#df" x="926" y="137"/><use href="#df" x="1037" y="150"/>
<use href="#df" x="796" y="250"/><use href="#df" x="825" y="250"/><use href="#df" x="909" y="250"/><use href="#df" x="925" y="250"/><use href="#df" x="1036" y="263"/>
<use href="#df" x="781" y="356"/><use href="#df" x="823" y="356"/><use href="#df" x="908" y="356"/><use href="#df" x="924" y="356"/><use href="#df" x="1035" y="369"/>
<use href="#df" x="864" y="691"/><use href="#df" x="884" y="691"/><use href="#df" x="995" y="713"/><use href="#df" x="1016" y="713"/>
<use href="#df" x="878" y="856"/><use href="#df" x="892" y="856"/><use href="#df" x="992" y="856"/><use href="#df" x="1010" y="856"/>
<use href="#df" x="1136" y="856"/><use href="#df" x="1150" y="856"/><use href="#df" x="1255" y="856"/><use href="#df" x="1273" y="856"/>
<use href="#df" x="1365" y="856"/><use href="#df" x="1385" y="856"/><use href="#df" x="1488" y="856"/><use href="#df" x="892" y="968"/>
</g>
<circle class="pf" cx="926" cy="150" r="2"/><circle class="pf" cx="925" cy="263" r="2"/>
</svg>
</body></html>
